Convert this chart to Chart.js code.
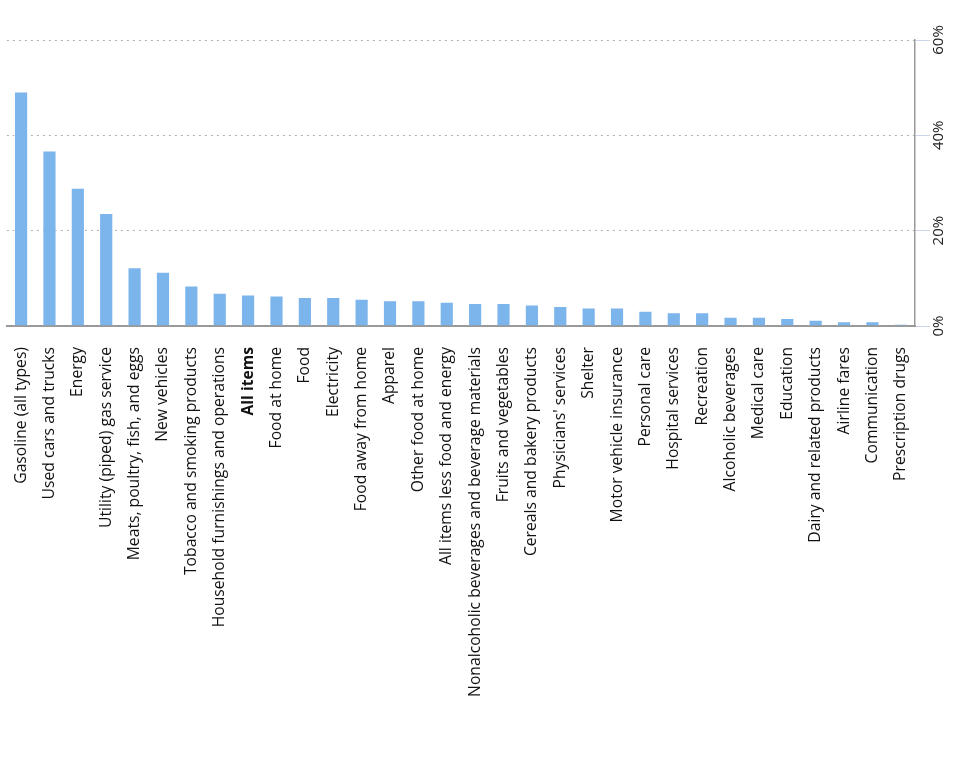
<!DOCTYPE html>
<html>
<head>
<meta charset="utf-8">
<script src="https://cdn.jsdelivr.net/npm/chart.js@4"></script>
<style>
  html, body { margin: 0; padding: 0; background: #fff; }
  #wrap { width: 958px; height: 776px; position: relative; }
</style>
</head>
<body>
<div id="wrap"><canvas id="grafico"></canvas></div>
<script>
// categorie (asse x)
const categories = [
  'Gasoline (all types)', 'Used cars and trucks', 'Energy', 'Utility (piped) gas service',
  'Meats, poultry, fish, and eggs', 'New vehicles', 'Tobacco and smoking products',
  'Household furnishings and operations', 'All items', 'Food at home', 'Food', 'Electricity',
  'Food away from home', 'Apparel', 'Other food at home', 'All items less food and energy',
  'Nonalcoholic beverages and beverage materials', 'Fruits and vegetables',
  'Cereals and bakery products', "Physicians' services", 'Shelter', 'Motor vehicle insurance',
  'Personal care', 'Hospital services', 'Recreation', 'Alcoholic beverages', 'Medical care',
  'Education', 'Dairy and related products', 'Airline fares', 'Communication', 'Prescription drugs'
];

// variazione percentuale
const changes = [
  49.2, 36.8, 29.0, 23.7, 12.3, 11.4, 8.5, 7.0, 6.6, 6.4, 6.1, 6.1, 5.7, 5.4, 5.4, 5.1,
  4.8, 4.8, 4.5, 4.2, 3.9, 3.9, 3.2, 2.9, 2.9, 1.95, 1.95, 1.7, 1.3, 1.0, 1.0, 0.4
];

// tick asse y
const yTicks = [0, 20, 40, 60];

const FONT = "'Open Sans', sans-serif";

new Chart(document.getElementById('grafico'), {
  type: 'bar',
  data: {
    labels: categories,
    datasets: [{
      data: changes,
      backgroundColor: '#7cb5ec',
      borderColor: 'rgba(255,255,255,0.6)',
      borderWidth: 1,
      barPercentage: 0.5,
      categoryPercentage: 1
    }]
  },
  options: {
    responsive: true,
    maintainAspectRatio: false,
    animation: false,
    layout: { padding: { top: 40, left: 5, right: 0, bottom: 76 } },
    plugins: { legend: { display: false }, tooltip: { enabled: false } },
    scales: {
      x: {
        afterFit: s => { s.height = 374; },
        grid: { display: false, drawTicks: false },
        border: { color: '#999', width: 2 },
        ticks: {
          autoSkip: false,
          minRotation: 90,
          maxRotation: 90,
          padding: 21,
          color: '#111',
          font: c => ({
            family: FONT,
            size: 15.7,
            weight: (c.tick && c.tick.label === 'All items') ? 'bold' : 'normal'
          })
        }
      },
      y: {
        position: 'right',
        min: yTicks[0],
        max: yTicks[yTicks.length - 1],
        afterBuildTicks: s => { s.ticks = yTicks.map(v => ({ value: v })); },
        afterFit: s => { s.width = 43; },
        grid: { color: '#b0b0b0', tickColor: '#ccd6eb', tickLength: 15, lineWidth: 1 },
        border: { color: '#999', width: 1.5, dash: [2, 4] },
        ticks: {
          minRotation: 90,
          maxRotation: 90,
          crossAlign: 'center',
          padding: -6,
          color: '#222',
          font: { family: FONT, size: 15 },
          callback: v => v + '%'
        }
      }
    }
  }
});
</script>
</body>
</html>
